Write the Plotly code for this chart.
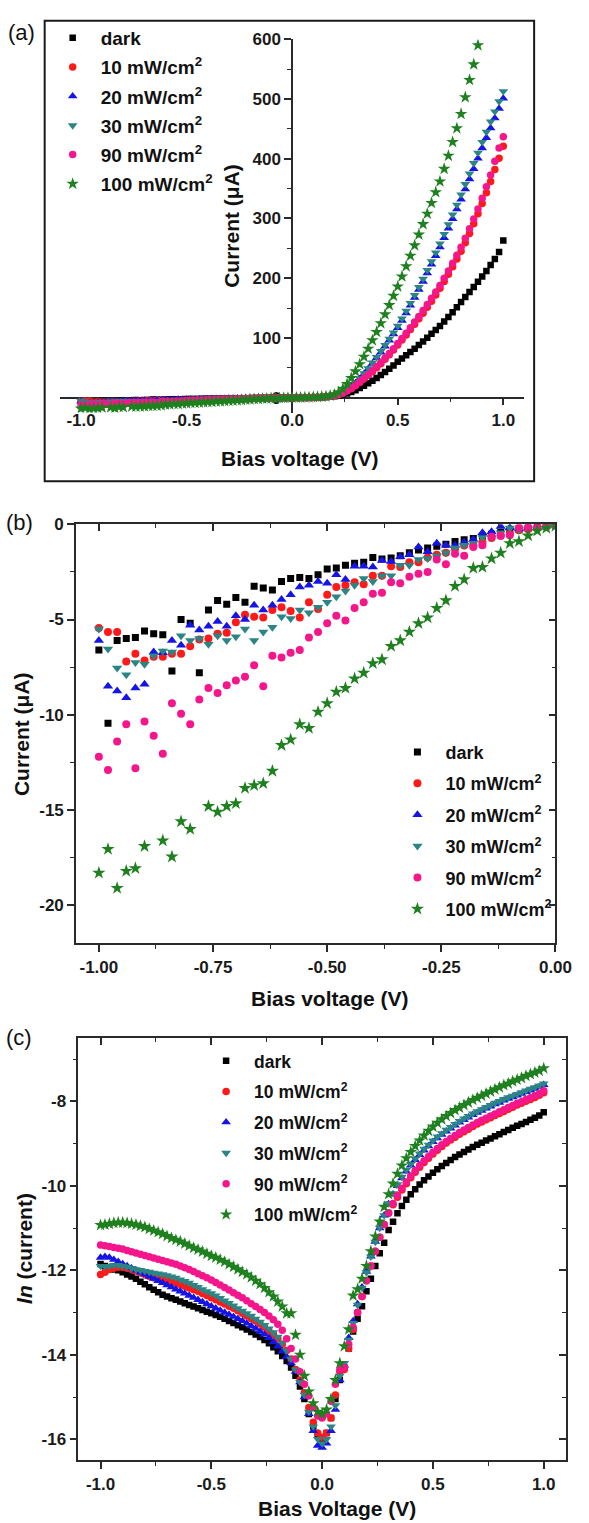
import plotly.graph_objects as go

FIG_W, FIG_H = 589, 1523
FONT = "Liberation Sans, Arial, Helvetica, sans-serif"

# ---------------- data ----------------
VOLT = [-1.00, -0.98, -0.96, -0.94, -0.92, -0.90, -0.88, -0.86, -0.84, -0.82,
        -0.80, -0.78, -0.76, -0.74, -0.72, -0.70, -0.68, -0.66, -0.64, -0.62,
        -0.60, -0.58, -0.56, -0.54, -0.52, -0.50, -0.48, -0.46, -0.44, -0.42,
        -0.40, -0.38, -0.36, -0.34, -0.32, -0.30, -0.28, -0.26, -0.24, -0.22,
        -0.20, -0.18, -0.16, -0.14, -0.12, -0.10, -0.08, -0.06, -0.04, -0.02,
        0.00,
        0.02, 0.04, 0.06, 0.08, 0.10, 0.12, 0.14, 0.16, 0.18, 0.20,
        0.22, 0.24, 0.26, 0.28, 0.30, 0.32, 0.34, 0.36, 0.38, 0.40,
        0.42, 0.44, 0.46, 0.48, 0.50, 0.52, 0.54, 0.56, 0.58, 0.60,
        0.62, 0.64, 0.66, 0.68, 0.70, 0.72, 0.74, 0.76, 0.78, 0.80,
        0.82, 0.84, 0.86, 0.88, 0.90, 0.92, 0.94, 0.96, 0.98, 1.00]
VOLT_NEG = VOLT[:51]   # -1.00 ... 0.00
VOLT_POS = VOLT[51:]   # 0.02 ... 1.00

SERIES = ["dark", "10 mW/cm<sup>2</sup>", "20 mW/cm<sup>2</sup>",
          "30 mW/cm<sup>2</sup>", "90 mW/cm<sup>2</sup>", "100 mW/cm<sup>2</sup>"]

# panel (b): current (uA), reverse bias
B_DARK = [-6.6, -10.45, -6.1, -6.0, -5.95, -5.6, -5.75, -5.8, -7.7, -5.0,
          -5.2, -7.8, -4.5, -4.0, -4.2, -3.85, -4.1, -3.25, -3.35, -3.45,
          -3.0, -2.85, -2.8, -2.85, -2.65, -2.35, -2.3, -2.15, -2.05, -2.0,
          -1.75, -1.82, -1.77, -1.65, -1.5, -1.35, -1.25, -1.15, -1.05, -0.9,
          -0.82, -0.75, -0.62, -0.52, -0.42, -0.33, -0.26, -0.2, -0.14, -0.08,
          -0.04]
B_10 = [-5.45, -5.65, -5.65, -7.2, -6.8, -7.15, -6.95, -6.95, -6.8, -6.8,
        -6.4, -6.05, -6.0, -5.75, -5.7, -5.15, -4.75, -4.85, -4.9, -4.5,
        -4.35, -4.55, -4.9, -4.1, -4.45, -3.7, -3.3, -3.2, -3.05, -3.15,
        -2.7, -2.7, -2.2, -2.25, -2.0, -2.0, -1.75, -1.6, -1.5, -1.3,
        -1.12, -1.1, -0.95, -0.72, -0.6, -0.5, -0.32, -0.26, -0.2, -0.12,
        -0.05]
B_20 = [-6.1, -8.5, -8.75, -9.1, -8.6, -8.4, -6.7, -6.75, -6.1, -6.35,
        -5.3, -5.55, -5.35, -5.1, -5.35, -4.8, -5.0, -4.25, -4.5, -4.25,
        -3.95, -3.7, -3.3, -3.2, -3.0, -3.1, -2.65, -2.9, -2.2, -2.2,
        -2.25, -1.9, -1.95, -1.7, -1.6, -1.2, -1.45, -1.0, -1.1, -1.1,
        -0.95, -0.8, -0.45, -0.4, -0.12, -0.18, -0.25, -0.2, -0.18, -0.1,
        -0.05]
B_30 = [-5.5, -6.55, -7.55, -7.9, -7.25, -7.35, -6.9, -6.65, -6.7, -5.85,
        -6.1, -6.0, -6.3, -5.85, -6.1, -5.9, -5.5, -6.1, -5.65, -5.4,
        -4.85, -4.95, -4.5, -4.65, -4.35, -4.1, -3.8, -3.5, -3.2, -2.85,
        -3.0, -2.7, -2.7, -2.15, -2.15, -1.85, -1.8, -1.65, -1.5, -1.25,
        -1.1, -1.0, -0.7, -0.7, -0.45, -0.2, -0.3, -0.25, -0.2, -0.12,
        -0.05]
B_90 = [-12.2, -12.9, -11.4, -10.5, -12.8, -10.35, -11.1, -12.05, -9.4, -9.95,
        -10.5, -9.2, -8.6, -8.85, -8.45, -8.2, -8.0, -7.4, -8.5, -6.9,
        -7.0, -6.75, -6.6, -5.95, -5.65, -5.2, -4.8, -5.05, -4.4, -4.1,
        -3.65, -3.6, -3.05, -3.1, -2.75, -2.6, -2.5, -1.85, -2.1, -1.55,
        -1.65, -1.2, -1.1, -0.65, -0.6, -0.58, -0.18, -0.18, -0.18, -0.12,
        -0.05]
B_100 = [-18.3, -17.05, -19.1, -18.2, -18.06, -16.9, None, -16.6, -17.45, -15.6,
         -16.0, None, -14.8, -15.1, -14.8, -14.65, -13.85, -13.7, -13.6, -12.95,
         -11.6, -11.3, -10.5, -10.7, -9.85, -9.4, -8.8, -8.6, -8.1, -7.8,
         -7.3, -7.1, -6.4, -6.1, -5.65, -5.2, -4.9, -4.4, -4.0, -3.25,
         -2.9, -2.3, -2.25, -1.8, -1.5, -1.0, -0.9, -0.6, -0.35, -0.2,
         -0.1]

# panel (a): forward-bias current (uA), 0.02 ... 1.00 V
A_DARK_POS = [0.1, 0.2, 0.3, 0.4, 0.5, 0.7, 0.9, 1.2, 1.6, 2.2,
              3.2, 4.7, 6.8, 9.5, 12.5, 16, 20, 24, 28.5, 33,
              38, 43, 48.5, 54, 60, 65.5, 71, 76.5, 82, 88,
              94, 100.5, 107, 113.5, 120, 127.5, 135, 143, 151.5, 160,
              168.5, 177, 185.5, 194, 203, 212, 222, 232, 244, 263]
A_10_POS = [0.1, 0.2, 0.3, 0.45, 0.6, 0.8, 1.1, 1.5, 2.2, 3.3,
            5, 7.5, 11, 15, 20, 25.5, 31.5, 37.5, 43.5, 50,
            57, 64.5, 72, 80, 88, 96.5, 105, 114, 123, 132,
            141.5, 151.5, 161.5, 172, 183, 194.5, 206.5, 219, 232, 245,
            259.5, 275, 291, 308, 325, 343, 362, 382, 401, 421]
A_20_POS = [0.1, 0.2, 0.3, 0.5, 0.7, 0.9, 1.2, 1.7, 2.5, 3.6,
            5.7, 9, 13.5, 18.5, 24.5, 31.5, 39.5, 48, 57, 66.5,
            76, 86, 96, 106.5, 117, 129, 141.5, 154.5, 167.5, 181,
            194.5, 208.5, 223, 237.5, 252, 267.5, 283.5, 299.5, 315.5, 332,
            349, 366, 383, 400.5, 418, 435, 451.5, 468, 484, 501]
A_30_POS = [0.1, 0.2, 0.3, 0.5, 0.7, 1.0, 1.3, 1.8, 2.6, 3.8,
            6, 9.5, 14, 19, 25, 32.5, 40.5, 49, 58.5, 68,
            78, 88, 98.5, 109, 120, 132.5, 145.5, 158.5, 171.5, 185,
            199, 213.5, 228, 243, 258, 274, 290, 306.5, 323, 340,
            357.5, 375, 392.5, 410, 428, 445, 462, 479, 496, 513]
A_90_POS = [0.1, 0.2, 0.3, 0.45, 0.6, 0.8, 1.1, 1.6, 2.3, 3.5,
            5.3, 8, 11.5, 15.8, 21, 26.5, 32.5, 38.5, 45, 52,
            59, 66.5, 74, 82, 90.5, 99, 108, 117, 126.5, 136,
            146, 156, 166.5, 177, 188, 200, 212, 225, 238.5, 252,
            267, 283, 299, 316, 334, 353, 373, 396, 418, 437]
A_100_POS = [0.1, 0.2, 0.4, 0.6, 0.8, 1.1, 1.6, 2.3, 3.4, 5.2,
             9, 15, 23, 33, 44, 56, 68.5, 82, 96, 110,
             124.5, 139.5, 155, 170.5, 186, 203, 220, 237.5, 255, 273,
             290.5, 308, 326, 344, 362, 383, 405, 428, 451, 475,
             503, 532, 558, 590]

# panel (c): ln(current), -1.00 ... 1.00 V
C_DARK = [-11.85, -11.9, -11.95, -11.98, -12.0, -12.05, -12.1, -12.15, -12.2, -12.27,
          -12.33, -12.4, -12.46, -12.52, -12.58, -12.62, -12.66, -12.7, -12.74, -12.78,
          -12.82, -12.86, -12.9, -12.94, -12.98, -13.02, -13.06, -13.1, -13.15, -13.2,
          -13.25, -13.3, -13.35, -13.4, -13.46, -13.52, -13.58, -13.65, -13.73, -13.82,
          -13.92, -14.03, -14.15, -14.3, -14.5, -14.75, -15.05, -15.4, -15.7, -15.9,
          -16.0,
          -15.85, -15.5, -15.05, -14.6, -14.3, -13.85, -13.45, -13.15, -12.85, -12.5,
          -12.2, -11.9, -11.6, -11.35, -11.05, -10.85, -10.65, -10.48, -10.33, -10.2,
          -10.08, -9.97, -9.87, -9.78, -9.69, -9.61, -9.53, -9.46, -9.39, -9.32,
          -9.26, -9.2, -9.14, -9.08, -9.03, -8.98, -8.93, -8.88, -8.83, -8.78,
          -8.73, -8.68, -8.63, -8.58, -8.54, -8.49, -8.44, -8.39, -8.34, -8.26]
C_10 = [-12.1, -12.05, -11.98, -11.95, -11.93, -11.93, -11.95, -11.98, -12.02, -12.06,
        -12.1, -12.14, -12.18, -12.2, -12.22, -12.24, -12.27, -12.3, -12.34, -12.38,
        -12.42, -12.46, -12.5, -12.55, -12.6, -12.65, -12.7, -12.75, -12.8, -12.85,
        -12.9, -12.96, -13.02, -13.08, -13.14, -13.2, -13.27, -13.35, -13.43, -13.52,
        -13.62, -13.75, -13.9, -14.1, -14.35, -14.6, -14.9, -15.25, -15.6, -15.85,
        -15.95,
        -15.85, -15.5, -14.95, -14.4, -14.35, -13.85, -13.4, -13.0, -12.62, -12.25,
        -11.9, -11.55, -11.22, -10.92, -10.65, -10.45, -10.27, -10.1, -9.95, -9.81,
        -9.68, -9.56, -9.45, -9.35, -9.25, -9.16, -9.07, -8.99, -8.92, -8.85,
        -8.78, -8.72, -8.66, -8.6, -8.54, -8.49, -8.44, -8.39, -8.34, -8.29,
        -8.24, -8.19, -8.14, -8.09, -8.05, -8.0, -7.96, -7.91, -7.86, -7.8]
C_20 = [-11.7, -11.68, -11.7, -11.75, -11.8, -11.85, -11.9, -11.95, -12.0, -12.05,
        -12.1, -12.15, -12.2, -12.25, -12.3, -12.35, -12.4, -12.45, -12.5, -12.55,
        -12.6, -12.65, -12.7, -12.75, -12.8, -12.85, -12.9, -12.95, -13.0, -13.05,
        -13.1, -13.15, -13.2, -13.26, -13.32, -13.38, -13.45, -13.52, -13.6, -13.7,
        -13.8, -13.92, -14.05, -14.2, -14.4, -14.65, -15.0, -15.4, -15.8, -16.15,
        -16.2,
        -16.1, -15.8, -15.3, -14.6, -14.25, -13.6, -13.2, -12.8, -12.4, -12.03,
        -11.67, -11.32, -11.0, -10.7, -10.43, -10.2, -10.0, -9.82, -9.66, -9.52,
        -9.39, -9.27, -9.16, -9.06, -8.96, -8.87, -8.79, -8.71, -8.64, -8.57,
        -8.5, -8.44, -8.38, -8.32, -8.27, -8.22, -8.17, -8.12, -8.07, -8.03,
        -7.98, -7.94, -7.9, -7.86, -7.82, -7.78, -7.74, -7.7, -7.66, -7.61]
C_30 = [-11.9, -11.92, -11.9, -11.88, -11.88, -11.9, -11.92, -11.95, -11.98, -12.0,
        -12.02, -12.04, -12.06, -12.08, -12.1, -12.12, -12.15, -12.18, -12.22, -12.26,
        -12.3, -12.35, -12.4, -12.45, -12.5, -12.55, -12.6, -12.66, -12.72, -12.78,
        -12.84, -12.9, -12.96, -13.02, -13.08, -13.15, -13.22, -13.3, -13.38, -13.47,
        -13.58, -13.72, -13.9, -14.1, -14.35, -14.65, -14.95, -15.35, -15.7, -16.0,
        -16.1,
        -16.0, -15.7, -15.2, -14.5, -14.2, -13.65, -13.25, -12.82, -12.42, -12.05,
        -11.68, -11.33, -11.0, -10.7, -10.42, -10.18, -9.97, -9.79, -9.63, -9.49,
        -9.36, -9.24, -9.13, -9.03, -8.93, -8.84, -8.76, -8.68, -8.61, -8.54,
        -8.47, -8.41, -8.35, -8.29, -8.24, -8.19, -8.14, -8.09, -8.04, -8.0,
        -7.95, -7.91, -7.87, -7.83, -7.79, -7.75, -7.71, -7.67, -7.63, -7.58]
C_90 = [-11.4, -11.42, -11.44, -11.46, -11.48, -11.5, -11.53, -11.56, -11.59, -11.62,
        -11.65, -11.68, -11.71, -11.74, -11.77, -11.8, -11.83, -11.86, -11.9, -11.94,
        -11.98, -12.03, -12.08, -12.13, -12.18, -12.23, -12.29, -12.35, -12.41, -12.47,
        -12.53, -12.59, -12.65, -12.72, -12.79, -12.86, -12.93, -13.0, -13.08, -13.17,
        -13.28, -13.42, -13.62, -13.85, -14.1, -14.4, -14.7, -14.97, -15.25, -15.45,
        -15.5,
        -15.4, -15.1, -14.7, -14.35, -14.3, -13.75, -13.35, -13.0, -12.62, -12.25,
        -11.9, -11.55, -11.22, -10.92, -10.64, -10.42, -10.23, -10.06, -9.91, -9.77,
        -9.64, -9.52, -9.41, -9.31, -9.21, -9.12, -9.03, -8.95, -8.88, -8.81,
        -8.74, -8.68, -8.62, -8.56, -8.5, -8.45, -8.4, -8.35, -8.3, -8.25,
        -8.2, -8.15, -8.1, -8.05, -8.01, -7.96, -7.92, -7.87, -7.82, -7.75]
C_100 = [-10.93, -10.92, -10.9, -10.88, -10.87, -10.87, -10.88, -10.9, -10.92, -10.95,
         -10.98, -11.02, -11.06, -11.1, -11.14, -11.19, -11.24, -11.28, -11.32, -11.37,
         -11.42, -11.47, -11.51, -11.56, -11.61, -11.66, -11.7, -11.75, -11.8, -11.86,
         -11.92, -11.98, -12.04, -12.1, -12.17, -12.25, -12.33, -12.42, -12.52, -12.62,
         -12.74, -12.86, -13.02, -13.02, -13.53, -14.0, -14.5, -14.87, -15.15, -15.35,
         -15.4,
         -15.3, -15.05, -14.6, -14.2, -13.8, -13.4, -12.6, -12.45, -12.2, -11.9,
         -11.55, -11.2, -10.85, -10.5, -10.2, -9.95, -9.72, -9.52, -9.35, -9.2,
         -9.06, -8.93, -8.81, -8.7, -8.6, -8.51, -8.43, -8.35, -8.28, -8.21,
         -8.15, -8.09, -8.03, -7.97, -7.92, -7.87, -7.82, -7.77, -7.72, -7.67,
         -7.62, -7.58, -7.53, -7.49, -7.45, -7.4, -7.36, -7.32, -7.28, -7.22]

B_ALL = [B_DARK, B_10, B_20, B_30, B_90, B_100]
A_POS_ALL = [A_DARK_POS, A_10_POS, A_20_POS, A_30_POS, A_90_POS, A_100_POS]
C_ALL = [C_DARK, C_10, C_20, C_30, C_90, C_100]

# ---------------- styles ----------------
COLORS = ["#000000", "#ff1a1a", "#1414e6", "#2b8585", "#f5168c", "#1e801e"]
SYMBOLS = ["square", "circle", "triangle-up", "triangle-down", "circle", "star"]
SIZES = [7, 8, 9, 9, 8, 10]


def px_x(p):
    return p / FIG_W


def px_y(p):
    return 1 - p / FIG_H


# panel geometry (pixels)
A_XDOM = [px_x(61.7), px_x(540)]
A_YDOM = [px_y(406), px_y(30.5)]
A_XR, A_YR = [-1.1, 1.1], [-25, 600]
B_XDOM = [px_x(78.3), px_x(572)]
B_YDOM = [px_y(940), px_y(518.3)]
B_XR, B_YR = [-1.05, 0], [-22, 0]
C_XDOM = [px_x(80.7), px_x(582.7)]
C_YDOM = [px_y(1460), px_y(1035)]
C_XR, C_YR = [-1.1, 1.1], [-16.5, -6.5]

fig = go.Figure()

for i in range(6):
    mk = dict(symbol=SYMBOLS[i], color=COLORS[i], size=SIZES[i] - 0.5, line=dict(width=0))
    ya = B_ALL[i] + A_POS_ALL[i]
    xa = VOLT_NEG + VOLT_POS[:len(A_POS_ALL[i])]
    fig.add_trace(go.Scatter(x=xa, y=ya, mode="markers", name=SERIES[i], marker=mk,
                             xaxis="x", yaxis="y", legend="legend", legendgroup=f"a{i}"))
for i in range(6):
    mk = dict(symbol=SYMBOLS[i], color=COLORS[i], size=SIZES[i], line=dict(width=0))
    fig.add_trace(go.Scatter(x=VOLT_NEG, y=B_ALL[i], mode="markers", name=SERIES[i], marker=mk,
                             xaxis="x2", yaxis="y2", legend="legend2", legendgroup=f"b{i}"))
for i in range(6):
    mk = dict(symbol=SYMBOLS[i], color=COLORS[i], size=SIZES[i] - 0.5, line=dict(width=0))
    fig.add_trace(go.Scatter(x=VOLT, y=C_ALL[i], mode="markers", name=SERIES[i], marker=mk,
                             xaxis="x3", yaxis="y3", legend="legend3", legendgroup=f"c{i}"))

# empty helper traces so the mirror (top/right) axes get drawn
for xa_, ya_ in [("x5", "y2"), ("x2", "y5"), ("x6", "y3"), ("x3", "y6")]:
    fig.add_trace(go.Scatter(x=[], y=[], mode="markers", xaxis=xa_, yaxis=ya_,
                             showlegend=False, hoverinfo="skip"))

tick_font = dict(family=FONT, size=17, color="#1a1a1a", weight="bold")
AX = dict(showgrid=False, zeroline=False, showline=True, linecolor="#2a2a2a", linewidth=1.6,
          tickcolor="#2a2a2a", tickwidth=1.5, ticklen=7, ticks="outside", tickfont=tick_font,
          fixedrange=True)


def minor(vals, ticks="outside"):
    return dict(tickmode="array", tickvals=vals, ticks=ticks, ticklen=4,
                tickcolor="#2a2a2a", tickwidth=1.3)


def frac(v, r, dom):
    return dom[0] + (v - r[0]) / (r[1] - r[0]) * (dom[1] - dom[0])


# panel (a): axes crossing at the origin
fig.update_layout(
    xaxis=dict(AX, domain=A_XDOM, range=A_XR, anchor="free", position=frac(0, A_YR, A_YDOM),
               tickmode="array", tickvals=[-1, -0.5, 0, 0.5, 1],
               ticktext=["-1.0", "-0.5", "0.0", "0.5", "1.0"],
               minor=minor([-0.75, -0.25, 0.25, 0.75]), layer="below traces"),
    yaxis=dict(AX, domain=A_YDOM, range=A_YR, anchor="free", position=frac(0, A_XR, A_XDOM),
               tickmode="array", tickvals=[0, 100, 200, 300, 400, 500, 600],
               ticktext=["0", "100", "200", "300", "400", "500", "600"],
               minor=minor([50, 150, 250, 350, 450, 550]), layer="below traces"),
    # panel (b)
    xaxis2=dict(AX, domain=B_XDOM, range=B_XR, anchor="y2",
                tickmode="array", tickvals=[-1, -0.75, -0.5, -0.25, 0],
                ticktext=["-1.00", "-0.75", "-0.50", "-0.25", "0.00"],
                minor=minor([-0.875, -0.625, -0.375, -0.125])),
    yaxis2=dict(AX, domain=B_YDOM, range=B_YR, anchor="x2",
                tickmode="array", tickvals=[0, -5, -10, -15, -20],
                ticktext=["0", "-5", "-10", "-15", "-20"],
                minor=minor([-2.5, -7.5, -12.5, -17.5])),
    xaxis5=dict(AX, range=B_XR, overlaying="x2", anchor="y2", side="top", ticks="inside",
                showticklabels=False, tickmode="array", tickvals=[-1, -0.75, -0.5, -0.25, 0],
                minor=minor([-0.875, -0.625, -0.375, -0.125], "inside")),
    yaxis5=dict(AX, range=B_YR, overlaying="y2", anchor="x2", side="right", ticks="inside",
                showticklabels=False, tickmode="array", tickvals=[0, -5, -10, -15, -20],
                minor=minor([-2.5, -7.5, -12.5, -17.5], "inside")),
    # panel (c)
    xaxis3=dict(AX, domain=C_XDOM, range=C_XR, anchor="y3",
                tickmode="array", tickvals=[-1, -0.5, 0, 0.5, 1],
                ticktext=["-1.0", "-0.5", "0.0", "0.5", "1.0"],
                minor=minor([-0.75, -0.25, 0.25, 0.75])),
    yaxis3=dict(AX, domain=C_YDOM, range=C_YR, anchor="x3",
                tickmode="array", tickvals=[-16, -14, -12, -10, -8],
                ticktext=["-16", "-14", "-12", "-10", "-8"],
                minor=minor([-15, -13, -11, -9, -7])),
    xaxis6=dict(AX, range=C_XR, overlaying="x3", anchor="y3", side="top", ticks="inside",
                showticklabels=False, tickmode="array", tickvals=[-1, -0.5, 0, 0.5, 1],
                minor=minor([-0.75, -0.25, 0.25, 0.75], "inside")),
    yaxis6=dict(AX, range=C_YR, overlaying="y3", anchor="x3", side="right", ticks="inside",
                showticklabels=False, tickmode="array", tickvals=[-16, -14, -12, -10, -8],
                minor=minor([-15, -13, -11, -9, -7], "inside")),
)

leg_common = dict(xanchor="left", yanchor="top", bgcolor="rgba(0,0,0,0)", borderwidth=0,
                  itemwidth=46, itemsizing="trace", itemclick=False, itemdoubleclick=False)
fig.update_layout(
    legend=dict(leg_common, x=px_x(46), y=px_y(10), tracegroupgap=1.5,
                font=dict(family=FONT, size=19, color="#111", weight="bold")),
    legend2=dict(leg_common, x=px_x(401), y=px_y(729), tracegroupgap=5,
                 font=dict(family=FONT, size=18, color="#111", weight="bold")),
    legend3=dict(leg_common, x=px_x(204), y=px_y(1040), tracegroupgap=5,
                 font=dict(family=FONT, size=17.5, color="#111", weight="bold")),
)

title_font = dict(family=FONT, size=21, color="#111", weight="bold")
ann = [
    dict(text="(a)", x=px_x(22), y=px_y(24), font=dict(family=FONT, size=22, color="#111")),
    dict(text="(b)", x=px_x(20), y=px_y(517), font=dict(family=FONT, size=22, color="#111")),
    dict(text="(c)", x=px_x(20), y=px_y(1035), font=dict(family=FONT, size=22, color="#111")),
    dict(text="Current (μA)", x=px_x(239), y=px_y(218), textangle=-90, font=title_font),
    dict(text="Bias voltage (V)", x=px_x(309), y=px_y(452), font=title_font),
    dict(text="Current (μA)", x=px_x(22), y=px_y(729), textangle=-90, font=title_font),
    dict(text="Bias voltage (V)", x=px_x(340), y=px_y(995), font=title_font),
    dict(text="<i>ln</i> (current)", x=px_x(25), y=px_y(1247), textangle=-90, font=title_font),
    dict(text="Bias Voltage (V)", x=px_x(347), y=px_y(1508), font=title_font),
]
for a in ann:
    a.update(xref="paper", yref="paper", showarrow=False, xanchor="center", yanchor="middle")

fig.update_layout(
    width=FIG_W, height=FIG_H, autosize=False,
    margin=dict(l=0, r=0, t=0, b=0),
    paper_bgcolor="white", plot_bgcolor="rgba(0,0,0,0)",
    font=dict(family=FONT, color="#111"),
    annotations=ann,
    shapes=[dict(type="rect", xref="paper", yref="paper",
                 x0=px_x(46), x1=px_x(550), y0=px_y(475), y1=px_y(11.7),
                 line=dict(color="#1a1a1a", width=2), fillcolor="rgba(0,0,0,0)")],
    hovermode=False,
)

fig.write_html("out.html", config={"displayModeBar": False},
               post_script="document.body.style.margin='0px';document.body.style.overflow='hidden';")
